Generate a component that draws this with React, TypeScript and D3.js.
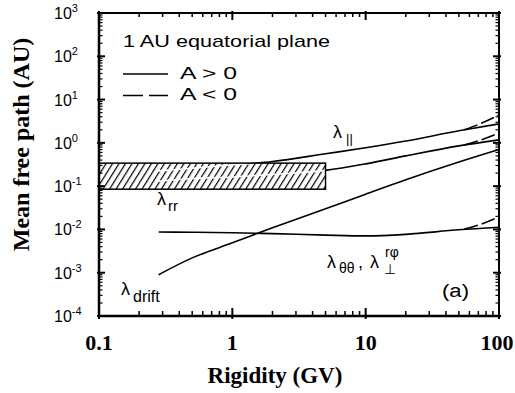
import React from 'react';
import * as d3 from 'd3';

// rigidity samples (GV) shared by the A > 0 curves
const rigidity = [0.28, 0.5, 1, 2, 5, 10, 20, 50, 100];
const lambdaPar = [0.225, 0.26, 0.31, 0.37, 0.56, 0.77, 1.1, 1.9, 2.75];
const lambdaRR = [0.13, 0.15, 0.163, 0.187, 0.231, 0.327, 0.5, 0.85, 1.17];
const lambdaTT = [0.0087, 0.0086, 0.0084, 0.008, 0.0074, 0.0071, 0.0077, 0.0098, 0.0112];
const lambdaDrift = [0.0009, 0.0022, 0.0049, 0.0109, 0.03, 0.065, 0.14, 0.36, 0.7];

// A < 0 branches near the high rigidity end
const rigidityNeg = [55, 75, 100];
const lambdaParNeg = [2.0, 2.9, 4.4];
const lambdaRRNeg = [0.89, 1.2, 1.7];
const lambdaTTNeg = [0.0102, 0.0135, 0.0195];

// observed range box (Palmer consensus)
const boxRigidity = [0.1, 5];
const boxLambda = [0.085, 0.34];

const xTickLabels = ['0.1', '1', '10', '100'];
const yExponents = ['3', '2', '1', '0', '-1', '-2', '-3', '-4'];

const W = 515;
const H = 393;
const L = 99, R = 499, T = 13, B = 316;

const SANS = '"Liberation Sans", Arial, sans-serif';
const SERIF = '"Liberation Serif", "Times New Roman", serif';

export default function App() {
  const x = d3.scaleLog().domain([0.1, 100]).range([L, R]);
  const y = d3.scaleLog().domain([1e-4, 1e3]).range([B, T]);

  const line = d3.line<[number, number]>()
    .x(d => x(d[0]))
    .y(d => y(d[1]))
    .curve(d3.curveMonotoneX);

  const zip = (xs: number[], ys: number[]) => xs.map((v, i) => [v, ys[i]] as [number, number]);

  const solid = [lambdaPar, lambdaRR, lambdaTT, lambdaDrift].map(s => line(zip(rigidity, s)));
  const dashed = [lambdaParNeg, lambdaRRNeg, lambdaTTNeg].map(s => line(zip(rigidityNeg, s)));

  const isMajor = (v: number) => Math.abs(Math.log10(v) - Math.round(Math.log10(v))) < 1e-6;
  const xt = x.ticks();
  const yt = y.ticks();

  const bx0 = x(boxRigidity[0]), bx1 = x(boxRigidity[1]);
  const by0 = y(boxLambda[1]), by1 = y(boxLambda[0]);

  return (
    <svg width={W} height={H} style={{ position: 'absolute', left: 0, top: 0, background: '#fff' }}>
      <defs>
        <pattern id="hatch" patternUnits="userSpaceOnUse" width={5.5} height={10} patternTransform="rotate(32)">
          <line x1={0} y1={0} x2={0} y2={10} stroke="#000" strokeWidth={2.4} />
        </pattern>
        <clipPath id="boxclip">
          <rect x={bx0} y={by0} width={bx1 - bx0} height={by1 - by0} />
        </clipPath>
      </defs>

      {/* curves */}
      <g fill="none" stroke="#000" strokeWidth={1.6}>
        {solid.map((d, i) => <path key={'s' + i} d={d || ''} />)}
        {dashed.map((d, i) => <path key={'d' + i} d={d || ''} strokeDasharray="14,4" />)}
      </g>

      {/* hatched box */}
      <rect x={bx0} y={by0} width={bx1 - bx0} height={by1 - by0} fill="#fff" />
      <rect x={bx0} y={by0} width={bx1 - bx0} height={by1 - by0} fill="url(#hatch)" />
      <g clipPath="url(#boxclip)" fill="none" stroke="#fff" strokeWidth={1.6}>
        {solid.slice(0, 2).map((d, i) => <path key={'w' + i} d={d || ''} />)}
      </g>
      <rect x={bx0} y={by0} width={bx1 - bx0} height={by1 - by0} fill="none" stroke="#000" strokeWidth={1.5} />

      {/* frame */}
      <g stroke="#000">
        <line x1={L} y1={T} x2={R} y2={T} strokeWidth={2} />
        <line x1={R} y1={T} x2={R} y2={B} strokeWidth={2} />
        <line x1={L} y1={T - 1} x2={L} y2={B + 1} strokeWidth={2.5} />
        <line x1={L - 1} y1={B} x2={R + 1} y2={B} strokeWidth={2.5} />
        {xt.map((v, i) => {
          const m = isMajor(v);
          const px = x(v);
          return (
            <g key={'xt' + i} strokeWidth={m ? 2 : 1.5}>
              <line x1={px} x2={px} y1={B + (m ? 3 : 0)} y2={B - (m ? 8 : 5)} />
              <line x1={px} x2={px} y1={T - (m ? 2 : 0)} y2={T + (m ? 7 : 4)} />
            </g>
          );
        })}
        {yt.map((v, i) => {
          const m = isMajor(v);
          const py = y(v);
          return (
            <g key={'yt' + i} strokeWidth={m ? 2 : 1.2}>
              <line y1={py} y2={py} x1={L - (m ? 2 : 0)} x2={L + (m ? 6 : 3.5)} />
              <line y1={py} y2={py} x1={R + (m ? 2 : 0)} x2={R - (m ? 6 : 3.5)} />
            </g>
          );
        })}
      </g>

      {/* y tick labels */}
      <g fontFamily={SANS} fill="#000">
        {yExponents.map((e, i) => {
          const py = y(Math.pow(10, +e));
          return (
            <text key={'yl' + i} x={54} y={py + 6} fontSize={16}>
              10<tspan fontSize={11} dy={-7}>{e}</tspan>
            </text>
          );
        })}
      </g>

      {/* x tick labels */}
      <g fontFamily={SERIF} fontWeight="bold" fontSize={22} textAnchor="middle" fill="#000">
        {xTickLabels.map((t, i) => (
          <text key={'xl' + i} x={Math.min(x(+t), 497)} y={350}>{t}</text>
        ))}
      </g>

      {/* axis titles */}
      <text x={275} y={383} fontFamily={SERIF} fontWeight="bold" fontSize={23} textAnchor="middle">Rigidity (GV)</text>
      <text transform="translate(29,144.5) rotate(-90)" fontFamily={SERIF} fontWeight="bold" fontSize={24} textAnchor="middle">Mean free path (AU)</text>

      {/* legend */}
      <g fontFamily={SANS} fill="#000">
        <text x={123} y={47} fontSize={17} textLength={207} lengthAdjust="spacingAndGlyphs">1 AU equatorial plane</text>
        <line x1={123} x2={168} y1={74} y2={74} stroke="#000" strokeWidth={1.6} />
        <line x1={123} x2={168} y1={95.5} y2={95.5} stroke="#000" strokeWidth={1.6} strokeDasharray="20,6" />
        <text x={180} y={79} fontSize={17} textLength={57} lengthAdjust="spacingAndGlyphs">A &gt; 0</text>
        <text x={180} y={100} fontSize={17} textLength={57} lengthAdjust="spacingAndGlyphs">A &lt; 0</text>
        <text x={442} y={297} fontSize={18} textLength={27} lengthAdjust="spacingAndGlyphs">(a)</text>
      </g>

      {/* curve labels */}
      <g fontFamily={SANS} fill="#000">
        <text x={333} y={138} fontSize={18}>λ</text>
        <text x={346} y={143} fontSize={13}>||</text>

        <text x={157} y={205} fontSize={18}>λ</text>
        <text x={168} y={211} fontSize={15}>rr</text>

        <text x={327} y={268} fontSize={18}>λ</text>
        <text x={339} y={273} fontSize={14}>θθ</text>
        <text x={358} y={268} fontSize={18}>,</text>
        <text x={370} y={268} fontSize={18}>λ</text>
        <text x={384} y={274} fontSize={14}>⊥</text>
        <text x={385} y={257} fontSize={14}>rφ</text>

        <text x={121} y={295} fontSize={18}>λ</text>
        <text x={133} y={302} fontSize={16}>drift</text>
      </g>
    </svg>
  );
}
